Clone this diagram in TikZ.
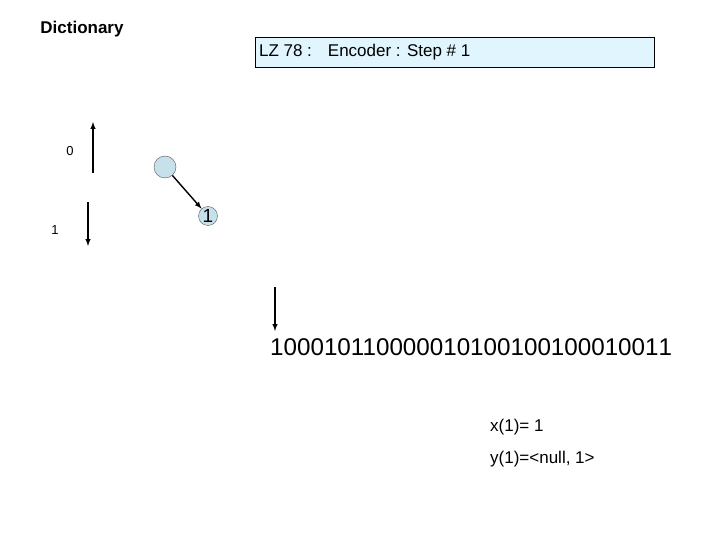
\documentclass[tikz,border=0pt]{standalone}
\usepackage{fontspec}
\setmainfont{Liberation Sans}
\begin{document}
\begin{tikzpicture}[x=1pt,y=-1pt,
  arr/.style={-latex,line width=1.4pt},
  tnode/.style={circle,draw=gray!70!black,fill=cyan!20!white!85!gray,minimum size=22pt,inner sep=0pt}]
\useasboundingbox (0,0) rectangle (720,540);
\node[font=\bfseries\fontsize{17}{19}\selectfont] (dict) at (82,29) {Dictionary};
\node[draw,fill=cyan!12,minimum width=399pt,minimum height=30pt,anchor=west,font=\fontsize{17}{19}\selectfont] (title) at (255,52) {\hspace*{-180pt}LZ 78 :\hspace{16pt}Encoder : Step \# 1};
\coordinate (u1) at (93,173); \coordinate (u2) at (93,122);
\draw[arr] (u1) -- (u2);
\node[font=\fontsize{13}{14}\selectfont] (l0) at (70,151) {0};
\coordinate (d1) at (88,202); \coordinate (d2) at (88,246);
\draw[arr] (d1) -- (d2);
\node[font=\fontsize{13}{14}\selectfont] (l1) at (55,230) {1};
\node[tnode] (root) at (165,167) {};
\node[tnode,minimum size=19pt,font=\fontsize{19}{19}\selectfont] (n1) at (208,216) {1};
\draw[arr] (root) -- (n1);
\coordinate (p1) at (275,287); \coordinate (p2) at (275,331);
\draw[arr] (p1) -- (p2);
\node[anchor=west,inner sep=0pt,font=\fontsize{24.2}{26}\selectfont] (bits) at (270,347) {10001011000001010010010001001\hspace{0pt}1};
\node[anchor=west,inner sep=0pt,font=\fontsize{17}{19}\selectfont] (x) at (490,427) {x(1)= 1};
\node[anchor=west,inner sep=0pt,font=\fontsize{17}{19}\selectfont] (y) at (490,459) {y(1)=<null, 1>};
\end{tikzpicture}
\end{document}
